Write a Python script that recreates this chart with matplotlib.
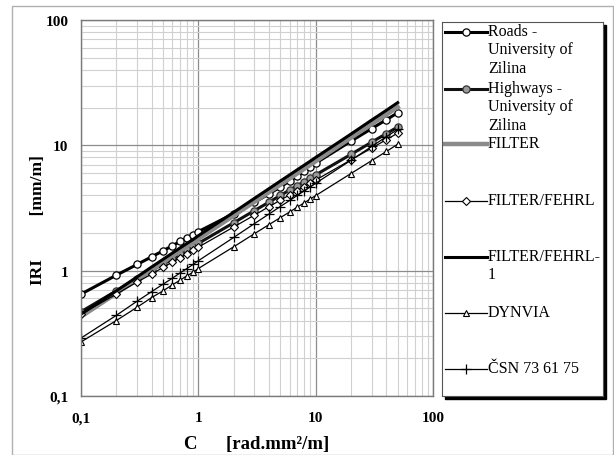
import matplotlib.pyplot as plt
import numpy as np
from matplotlib.lines import Line2D
from matplotlib.patches import Rectangle


C = [0.1, 0.2, 0.3, 0.4, 0.5, 0.6, 0.7, 0.8, 0.9, 1, 2, 3, 4, 5, 6, 7, 8, 9, 10, 20, 30, 40, 50]

roads = [0.65, 0.92, 1.12, 1.29, 1.44, 1.58, 1.71, 1.83, 1.94, 2.05, 2.85, 3.5, 4.1, 4.65,
         5.2, 5.7, 6.2, 6.7, 7.2, 10.8, 13.6, 16.0, 18.2]
highways = [0.47, 0.69, 0.86, 1.00, 1.13, 1.25, 1.36, 1.46, 1.56, 1.65, 2.41, 3.01, 3.52, 3.98,
            4.40, 4.78, 5.14, 5.48, 5.81, 8.47, 10.6, 12.4, 14.0]
filt = [0.43, 0.66, 0.85, 1.01, 1.16, 1.30, 1.44, 1.56, 1.67, 1.79, 2.75, 3.54, 4.23, 4.85,
        5.43, 5.98, 6.50, 6.98, 7.46, 11.5, 14.8, 17.6, 20.2]
fehrl = [0.45, 0.65, 0.81, 0.94, 1.06, 1.17, 1.27, 1.37, 1.46, 1.54, 2.23, 2.77, 3.24, 3.65,
         4.02, 4.36, 4.69, 4.99, 5.28, 7.66, 9.5, 11.1, 12.5]
fehrl1 = [0.45, 0.69, 0.89, 1.07, 1.23, 1.38, 1.52, 1.65, 1.77, 1.90, 2.92, 3.77, 4.51, 5.19,
          5.81, 6.40, 6.95, 7.48, 8.0, 12.3, 15.9, 19.0, 21.9]
dynvia = [0.27, 0.40, 0.51, 0.61, 0.69, 0.77, 0.84, 0.91, 0.97, 1.04, 1.55, 1.97, 2.33, 2.65,
          2.94, 3.22, 3.48, 3.73, 3.97, 5.96, 7.55, 8.93, 10.2]
csn = [0.29, 0.44, 0.57, 0.68, 0.78, 0.87, 0.96, 1.04, 1.12, 1.20, 1.84, 2.37, 2.83, 3.25,
       3.63, 3.99, 4.34, 4.67, 4.98, 7.6, 9.8, 11.7, 13.4]

labels = ["Roads -\nUniversity of\nZilina", "Highways -\nUniversity of\nZilina", "FILTER",
          "FILTER/FEHRL", "FILTER/FEHRL-\n1", "DYNVIA", "ČSN 73 61 75"]

serif = ["Liberation Serif", "DejaVu Serif"]

styles = [
    dict(color="black", lw=2.2, marker="o", ms=5.2, mfc="white", mec="black", mew=0.9),
    dict(color="#111111", lw=2.2, marker="o", ms=5.2, mfc="#9a9a9a", mec="#333333", mew=0.9),
    dict(color="#8a8a8a", lw=3.2),
    dict(color="black", lw=0.9, marker="D", ms=3.8, mfc="white", mec="black", mew=0.8),
    dict(color="black", lw=2.2),
    dict(color="black", lw=0.9, marker="^", ms=4.4, mfc="white", mec="black", mew=0.8),
    dict(color="black", lw=0.9, marker="+", ms=6.5, mew=0.9),
]
series = [roads, highways, filt, fehrl, fehrl1, dynvia, csn]

fig = plt.figure(figsize=(6.14, 4.56), dpi=100)
W, H = 614, 456

# outer frame
fig.patches.append(Rectangle((12 / W, 0), (W - 13) / W, (H - 7) / H, transform=fig.transFigure,
                             fill=False, edgecolor="#b0b0b0", lw=1.0, zorder=-2))

ax = fig.add_axes([81 / W, 1 - 397 / H, (433 - 81) / W, (397 - 21) / H])
ax.set_xscale("log")
ax.set_yscale("log")
ax.set_xlim(0.1, 100)
ax.set_ylim(0.1, 100)

for ys, st in zip(series, styles):
    ax.plot(C, ys, **st)

ax.grid(which="major", color="#8c8c8c", lw=0.9)
ax.grid(which="minor", color="#d0d0d0", lw=0.8)
ax.set_axisbelow(True)
for sp in ax.spines.values():
    sp.set_color("#7a7a7a")
    sp.set_linewidth(1.0)

ax.set_xticks([0.1, 1, 10, 100], labels=["0,1", "1", "10", "100"])
ax.set_yticks([0.1, 1, 10, 100], labels=["0,1", "1", "10", "100"])
ax.tick_params(which="both", length=0)
ax.tick_params(axis="x", pad=11)
ax.tick_params(axis="y", pad=9)
for t in ax.get_xticklabels() + ax.get_yticklabels():
    t.set_family(serif)
    t.set_fontweight("bold")
    t.set_fontsize(11)

ax.set_xlabel("C      [rad.mm²/m]", family=serif, fontweight="bold", fontsize=13.5)
ax.set_ylabel("IRI          [mm/m]", family=serif, fontweight="bold", fontsize=12.5)
ax.xaxis.set_label_coords(0.5, -0.105)
ax.yaxis.set_label_coords(-0.10, 0.47)

# legend box with shadow
lx0, ly0, lx1, ly1 = 442, 23, 603, 397
fig.patches.append(Rectangle(((lx0 + 3) / W, 1 - (ly1 + 3) / H), (lx1 - lx0) / W, (ly1 - ly0) / H,
                             transform=fig.transFigure, facecolor="black", edgecolor="black",
                             zorder=-1))
lax = fig.add_axes([lx0 / W, 1 - ly1 / H, (lx1 - lx0) / W, (ly1 - ly0) / H])
lax.set_xlim(0, lx1 - lx0)
lax.set_ylim(ly1 - ly0, 0)
lax.set_xticks([])
lax.set_yticks([])
lax.set_facecolor("white")
for sp in lax.spines.values():
    sp.set_color("#555555")
    sp.set_linewidth(0.8)

rows = [10, 67, 122, 179, 235, 291, 347]
for yy, lab, st in zip(rows, labels, styles):
    line_st = {k: v for k, v in st.items() if k in ("color", "lw")}
    lax.add_line(Line2D([3, 45], [yy, yy], **line_st))
    if "marker" in st:
        lax.plot([24], [yy], linestyle="none", marker=st["marker"], ms=st["ms"],
                 mfc=st.get("mfc", "black"), mec=st.get("mec", "black"), mew=st.get("mew", 1.0),
                 color=st["color"])
    lax.text(46, yy - 9, lab, family=serif, fontsize=11.5, va="top", ha="left", linespacing=1.2)

fig.savefig("out.png", dpi=100)
